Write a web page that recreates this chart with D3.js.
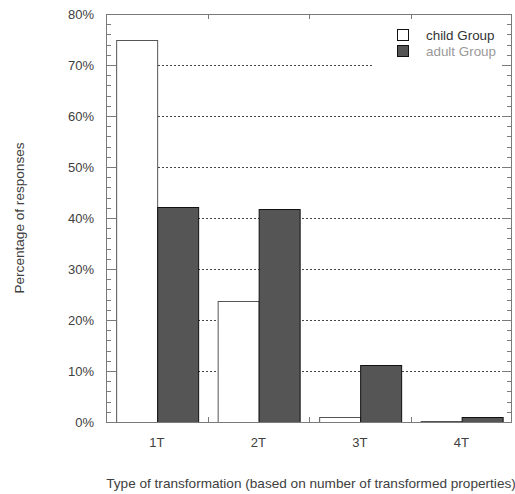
<!DOCTYPE html>
<html>
<head>
<meta charset="utf-8">
<script src="https://cdn.jsdelivr.net/npm/d3@7/dist/d3.min.js"></script>
<style>
  html, body { margin: 0; padding: 0; background: #fff; }
  svg { display: block; }
  text { font-family: "Liberation Sans", Arial, sans-serif; }
</style>
</head>
<body>
<svg id="chart" width="515" height="494"></svg>
<script>
// Share of responses by transformation type
const categories = ["1T", "2T", "3T", "4T"];
const seriesNames = ["child Group", "adult Group"];
const childValues = [75.0, 23.8, 1.0, 0.2];
const adultValues = [42.1, 41.8, 11.1, 1.0];
const yTicks = [0, 10, 20, 30, 40, 50, 60, 70, 80];

const svg = d3.select("#chart");
const plotLeft = 106, plotRight = 512, plotTop = 14, plotBottom = 422;

const x0 = d3.scaleBand().domain(categories).range([plotLeft, plotRight])
  .paddingInner(0.2).paddingOuter(0.1);
const x1 = d3.scaleBand().domain(seriesNames).range([0, x0.bandwidth()]).padding(0);
const y = d3.scaleLinear().domain([0, 80]).range([plotBottom, plotTop]);

const frameColor = "#7a7a7a";
const textColor = "#404040";

// dotted gridlines at each major tick
svg.append("g").selectAll("line")
  .data(yTicks.filter(t => t > 0 && t < 80))
  .join("line")
  .attr("x1", plotLeft).attr("x2", plotRight)
  .attr("y1", d => Math.round(y(d)) + 0.5).attr("y2", d => Math.round(y(d)) + 0.5)
  .attr("stroke", "#444").attr("stroke-width", 1)
  .attr("stroke-dasharray", "2,2");

// bars
const rows = categories.map((c, i) => ({ cat: c, vals: [
  { name: seriesNames[0], v: childValues[i] },
  { name: seriesNames[1], v: adultValues[i] }
]}));

svg.append("g").selectAll("g")
  .data(rows).join("g")
  .attr("transform", d => `translate(${x0(d.cat)},0)`)
  .selectAll("rect")
  .data(d => d.vals).join("rect")
  .attr("x", d => Math.round(x1(d.name)) + 0.5)
  .attr("y", d => Math.round(y(d.v)) + 0.5)
  .attr("width", Math.round(x1.bandwidth()))
  .attr("height", d => Math.max(0, Math.round(y(0)) - Math.round(y(d.v))))
  .attr("fill", d => d.name === seriesNames[0] ? "#fff" : "#555")
  .attr("stroke", d => d.name === seriesNames[0] ? "#555" : "#111")
  .attr("stroke-width", 1);

// legend (white panel hides the gridline behind it)
const lg = svg.append("g");
lg.append("rect").attr("x", 374).attr("y", 20).attr("width", 134).attr("height", 48)
  .attr("fill", "#fff");
const legendRows = [
  { name: seriesNames[0], fill: "#fff", text: "#333" },
  { name: seriesNames[1], fill: "#555", text: "#999" }
];
legendRows.forEach((d, i) => {
  lg.append("rect").attr("x", 397.5).attr("y", 29.5 + i * 16)
    .attr("width", 11).attr("height", 11)
    .attr("fill", d.fill).attr("stroke", "#111").attr("stroke-width", 1);
  lg.append("text").attr("x", 426).attr("y", 35 + i * 16)
    .attr("dy", "0.35em").attr("font-size", 13.4).attr("fill", d.text)
    .text(d.name);
});

// frame
svg.append("rect")
  .attr("x", plotLeft + 0.5).attr("y", plotTop + 0.5)
  .attr("width", plotRight - plotLeft - 1).attr("height", plotBottom - plotTop)
  .attr("fill", "none").attr("stroke", frameColor).attr("stroke-width", 1);

// left and right ticks: minor every 2%, major every 10%
const minor = d3.range(0, 81, 2);
const tk = svg.append("g").attr("stroke", frameColor).attr("stroke-width", 1);
minor.forEach(v => {
  const len = v % 10 === 0 ? 10 : 5;
  const yy = Math.round(y(v)) + 0.5;
  tk.append("line").attr("x1", plotLeft).attr("x2", plotLeft + len).attr("y1", yy).attr("y2", yy);
  tk.append("line").attr("x1", plotRight - len).attr("x2", plotRight).attr("y1", yy).attr("y2", yy);
});

// top and bottom ticks on category boundaries
const step = x0.step();
categories.slice(1).forEach(c => {
  const xx = Math.round(x0(c) - x0.paddingInner() * step / 2) + 0.5;
  tk.append("line").attr("x1", xx).attr("x2", xx).attr("y1", plotTop).attr("y2", plotTop + 5);
  tk.append("line").attr("x1", xx).attr("x2", xx).attr("y1", plotBottom - 5).attr("y2", plotBottom);
});

// y tick labels
svg.append("g").selectAll("text")
  .data(yTicks).join("text")
  .attr("x", 94).attr("y", d => y(d))
  .attr("dy", "0.35em").attr("text-anchor", "end")
  .attr("font-size", 13).attr("fill", textColor)
  .text(d => d + "%");

// x tick labels
svg.append("g").selectAll("text")
  .data(categories).join("text")
  .attr("x", d => x0(d) + x0.bandwidth() / 2).attr("y", 442)
  .attr("dy", "0.35em").attr("text-anchor", "middle")
  .attr("font-size", 13).attr("fill", textColor)
  .text(d => d);

// axis titles
svg.append("text")
  .attr("x", (plotLeft + plotRight) / 2 + 2).attr("y", 483)
  .attr("dy", "0.35em").attr("text-anchor", "middle")
  .attr("font-size", 13.6).attr("fill", textColor)
  .text("Type of transformation (based on number of transformed properties)");

svg.append("text")
  .attr("transform", "translate(19,218) rotate(-90)")
  .attr("dy", "0.35em").attr("text-anchor", "middle")
  .attr("font-size", 13.6).attr("fill", textColor)
  .text("Percentage of responses");
</script>
</body>
</html>
